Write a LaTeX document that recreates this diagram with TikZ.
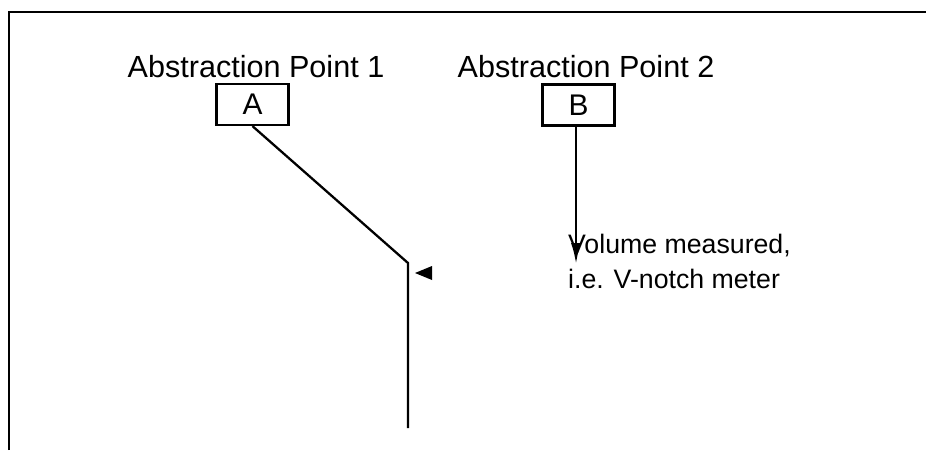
\documentclass[tikz,border=0pt]{standalone}
\usepackage{fontspec}
\setmainfont{Liberation Sans}
\usetikzlibrary{arrows.meta}

\begin{document}
\begin{tikzpicture}[x = 0.02cm, y = -0.02cm, line width = 1.3pt,
		tag/.style = {draw, minimum width = 1.44cm, minimum height = 0.82cm, inner sep = 0pt, font = \fontsize{17}{20}\selectfont},
		caption/.style = {anchor = base, inner sep = 0pt, font = \fontsize{17.4}{20}\selectfont}]
		\useasboundingbox (0, 0) rectangle (926, 450);
		\draw (9, 450) -- (9, 12) -- (926, 12);
		\node[caption] (lab1) at (256, 77) {Abstraction Point 1};
		\node[caption] (lab2) at (586, 77) {Abstraction Point 2};
		\node[tag] (ptA) at (252.5, 104.5) {A};
		\node[tag] (ptB) at (578.5, 105) {B};
		\coordinate (bend) at (408, 263);
		\coordinate (pipeEnd) at (408, 428);
		\coordinate (flowMark) at (415, 273);
		\coordinate (meterTip) at (576, 264);
		\draw (ptA.south) -- (bend) -- (pipeEnd);
		\fill (flowMark) -- ++(17, -7) -- ++(0, 14) -- cycle;
		\draw[-{Latex[length = 0.42cm, width = 0.2cm]}] (ptB.south -| meterTip) -- (meterTip);
		\node[anchor = base west, inner sep = 0pt, align = left, font = \fontsize{15.2}{19.9}\selectfont] (note) at (567, 288) {Volume measured,\\i.e. V-notch meter};
	\end{tikzpicture}
\end{document}
